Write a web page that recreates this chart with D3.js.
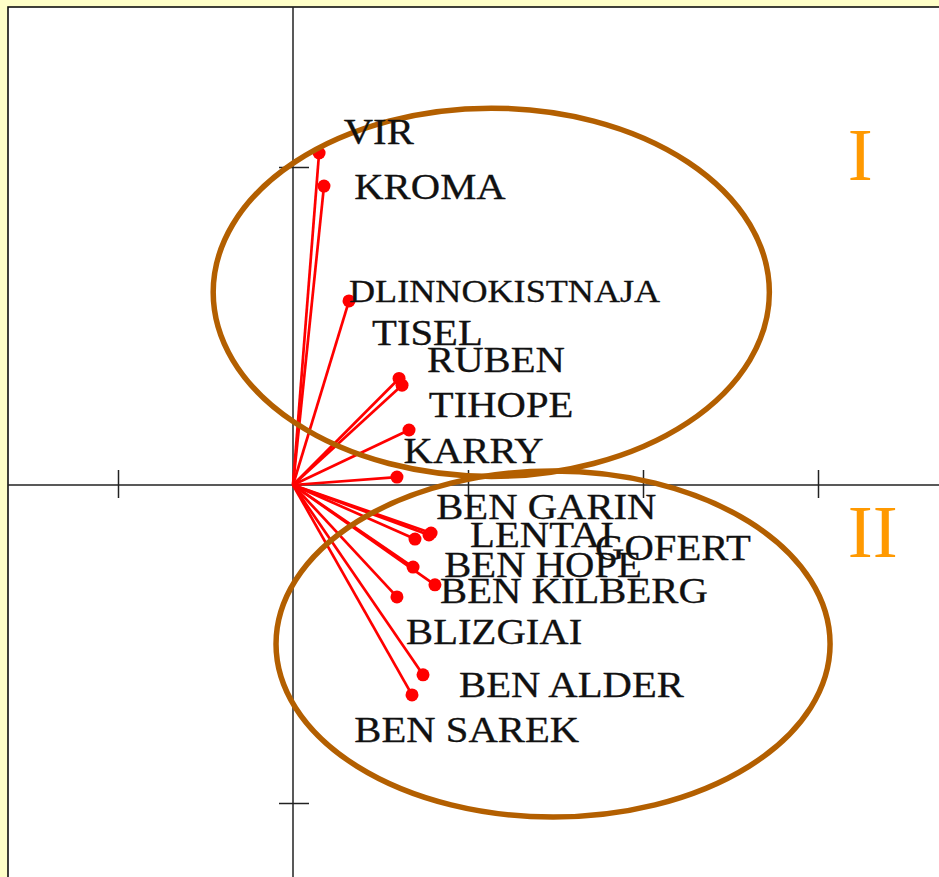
<!DOCTYPE html>
<html>
<head>
<meta charset="utf-8">
<script src="https://cdn.jsdelivr.net/npm/d3@7"></script>
<style>
  html, body { margin: 0; padding: 0; background: #ffffc8; }
  svg { display: block; }
</style>
</head>
<body>
<svg id="chart" width="939" height="877"></svg>
<script>
// ---- data ----
const varieties = ["VIR", "KROMA", "DLINNOKISTNAJA", "TISEL", "RUBEN", "TIHOPE", "KARRY",
  "BEN GARIN", "LENTAI", "GOFERT", "BEN HOPE", "BEN KILBERG", "BLIZGIAI", "BEN ALDER", "BEN SAREK"];
const loadX = [0.149, 0.177, 0.320, 0.606, 0.623, 0.663, 0.594,
  0.789, 0.697, 0.777, 0.686, 0.811, 0.594, 0.743, 0.680];
const loadY = [1.044, 0.940, 0.579, 0.335, 0.314, 0.173, 0.025,
  -0.151, -0.170, -0.157, -0.258, -0.314, -0.352, -0.597, -0.660];
// label anchor (left, baseline) in data units
const labelX = [0.290, 0.350, 0.320, 0.452, 0.766, 0.776, 0.632,
  0.818, 1.012, 1.726, 0.864, 0.840, 0.646, 0.949, 0.350];
const labelY = [1.072, 0.899, 0.575, 0.440, 0.355, 0.214, 0.069,
  -0.107, -0.195, -0.236, -0.289, -0.371, -0.500, -0.667, -0.808];
const xTicks = [-1, 1, 2, 3];
const yTicks = [-1, 1];
// groups: centre (data units) and radii (data units)
const groupNames = ["I", "II"];
const groupCx = [1.133, 1.486];
const groupCy = [0.606, -0.500];
const groupRx = [1.589, 1.583];
const groupRy = [0.579, 0.544];
const groupLabelX = [3.17, 3.17];
const groupLabelY = [0.960, -0.227];

// ---- layout ----
const svg = d3.select("#chart");
const x = d3.scaleLinear().domain([-1, 3]).range([118, 818]);
const y = d3.scaleLinear().domain([-1, 1]).range([803, 167]);

// frame
svg.append("rect").attr("x", 8).attr("y", 7).attr("width", 960).attr("height", 900)
  .attr("fill", "#ffffff").attr("stroke", "#111").attr("stroke-width", 1.6);

// axes lines
svg.append("line").attr("x1", 8).attr("x2", 939).attr("y1", y(0)).attr("y2", y(0))
  .attr("stroke", "#222").attr("stroke-width", 1.5);
svg.append("line").attr("x1", x(0)).attr("x2", x(0)).attr("y1", 7).attr("y2", 877)
  .attr("stroke", "#222").attr("stroke-width", 1.5);

// ticks (crossing) via d3 axes
function styleAxis(g) {
  g.select(".domain").remove();
  g.selectAll(".tick line").attr("stroke", "#222").attr("stroke-width", 1.5);
  g.selectAll(".tick text").remove();
}
svg.append("g").attr("transform", `translate(0,${y(0)})`)
  .call(d3.axisBottom(x).tickValues(xTicks).tickSize(13).tickFormat("")).call(styleAxis);
svg.append("g").attr("transform", `translate(0,${y(0)})`)
  .call(d3.axisTop(x).tickValues(xTicks).tickSize(15).tickFormat("")).call(styleAxis);
svg.append("g").attr("transform", `translate(${x(0)},0)`)
  .call(d3.axisLeft(y).tickValues(yTicks).tickSize(14).tickFormat("")).call(styleAxis);
svg.append("g").attr("transform", `translate(${x(0)},0)`)
  .call(d3.axisRight(y).tickValues(yTicks).tickSize(16).tickFormat("")).call(styleAxis);

// vectors
const pts = varieties.map((n, i) => ({ name: n, x: loadX[i], y: loadY[i], lx: labelX[i], ly: labelY[i] }));
svg.append("g").selectAll("line").data(pts).join("line")
  .attr("x1", x(0)).attr("y1", y(0))
  .attr("x2", d => x(d.x)).attr("y2", d => y(d.y))
  .attr("stroke", "#ff0000").attr("stroke-width", 2.7);
svg.append("g").selectAll("circle").data(pts).join("circle")
  .attr("cx", d => x(d.x)).attr("cy", d => y(d.y)).attr("r", 6.5)
  .attr("fill", "#ff0000");

// ellipses
const groups = groupNames.map((n, i) => ({ name: n, cx: groupCx[i], cy: groupCy[i], rx: groupRx[i], ry: groupRy[i], lx: groupLabelX[i], ly: groupLabelY[i] }));
svg.append("g").selectAll("ellipse").data(groups).join("ellipse")
  .attr("cx", d => x(d.cx)).attr("cy", d => y(d.cy))
  .attr("rx", d => x(d.rx) - x(0)).attr("ry", d => y(0) - y(d.ry))
  .attr("fill", "none").attr("stroke", "#b35f00").attr("stroke-width", 5.5);

// labels
svg.append("g").selectAll("g").data(pts).join("g")
  .attr("transform", d => `translate(${x(d.lx)},${y(d.ly)}) scale(1.13,1)`)
  .append("text")
  .attr("font-family", "'Liberation Serif', 'Times New Roman', serif")
  .attr("font-size", d => d.name === "DLINNOKISTNAJA" ? 32 : 36)
  .attr("fill", "#111")
  .attr("stroke", "#111").attr("stroke-width", 0.3)
  .text(d => d.name);

svg.append("g").selectAll("text").data(groups).join("text")
  .attr("x", d => x(d.lx)).attr("y", d => y(d.ly))
  .attr("font-family", "'Liberation Serif', 'Times New Roman', serif")
  .attr("font-size", 75)
  .attr("fill", "#ff9900")
  .text(d => d.name);
</script>
</body>
</html>
